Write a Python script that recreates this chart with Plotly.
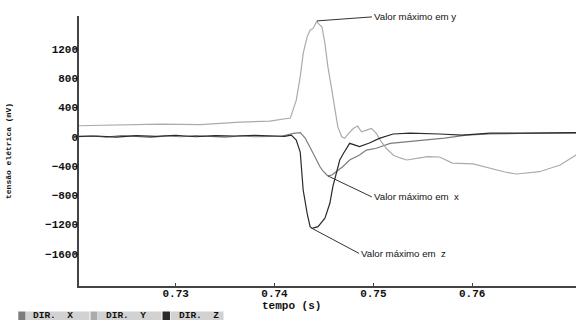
import plotly.graph_objects as go

# ---- data (time in s, voltage in mV) ----
t_x = [0.7202, 0.7215, 0.7230, 0.7245, 0.7260, 0.7275, 0.7290, 0.7305, 0.7320, 0.7335,
       0.7350, 0.7365, 0.7380, 0.7395, 0.7408, 0.7419, 0.7426, 0.7431, 0.7436, 0.7441,
       0.7446, 0.7449, 0.7453, 0.7454, 0.7458, 0.7463, 0.7469, 0.7476, 0.7486, 0.7493,
       0.7503, 0.7517, 0.7532, 0.7550, 0.7572, 0.7594, 0.7618, 0.7648, 0.7678, 0.7705]
v_x = [0, 10, -5, 15, 5, -10, 10, 0, 15, 5,
       -5, 10, 0, 5, 10, 46, 55, -18, -158, -277,
       -410, -468, -523, -536, -523, -468, -410, -318, -250, -182,
       -158, -90, -72, -45, -18, 23, 37, 44, 50, 50]

t_y = [0.7202, 0.7244, 0.7284, 0.7325, 0.7365, 0.7395, 0.7411, 0.7416, 0.7417, 0.7422,
       0.7426, 0.7429, 0.7433, 0.7436, 0.7439, 0.7443, 0.7444, 0.7448, 0.7451, 0.7454,
       0.7458, 0.7461, 0.7464, 0.7468, 0.7471, 0.7475, 0.7480, 0.7484, 0.7488, 0.7493,
       0.7498, 0.7503, 0.7508, 0.7513, 0.7520, 0.7527, 0.7534, 0.7547, 0.7555, 0.7567,
       0.7580, 0.7601, 0.7618, 0.7633, 0.7645, 0.7658, 0.7668, 0.7689, 0.7705]
v_y = [150, 160, 173, 165, 200, 214, 242, 255, 296, 500,
       819, 1138, 1365, 1456, 1480, 1583, 1552, 1500, 1275, 955,
       637, 364, 137, 0, -22, 46, 115, 146, 68, 91,
       115, 46, -68, -158, -250, -290, -318, -290, -273, -277,
       -360, -372, -427, -482, -509, -495, -478, -386, -250]

t_z = [0.7202, 0.7220, 0.7240, 0.7260, 0.7280, 0.7300, 0.7320, 0.7340, 0.7360, 0.7380,
       0.7400, 0.7410, 0.7417, 0.7422, 0.7426, 0.7427, 0.7429, 0.7433, 0.7436, 0.7438,
       0.7444, 0.7451, 0.7456, 0.7459, 0.7463, 0.7466, 0.7470, 0.7476, 0.7486, 0.7496,
       0.7506, 0.7520, 0.7537, 0.7550, 0.7567, 0.7590, 0.7618, 0.7648, 0.7678, 0.7705]
v_z = [5, 10, -5, 15, 5, 20, 0, 15, 10, 20,
       10, 5, 23, -45, -209, -410, -728, -1046, -1229, -1253,
       -1229, -1114, -909, -683, -455, -318, -222, -90, -136, -86,
       -22, 37, 50, 46, 37, 23, 50, 50, 57, 55]

x_ticks = [0.73, 0.74, 0.75, 0.76]
x_ticklabels = ["0.73", "0.74", "0.75", "0.76"]
y_ticks = [1200, 800, 400, 0, -400, -800, -1200, -1600]

series_names = ["DIR. X", "DIR. Y", "DIR. Z"]
series_colors = ["#7c7c7c", "#ababab", "#2a2a2a"]

# annotation points (max of each series)
ann_x = (0.7454, -536)
ann_y = (0.7443, 1583)
ann_z = (0.7438, -1253)

mono = "Liberation Mono, Courier New, monospace"
sans = "Liberation Sans, Arial, sans-serif"

L, R, T, B = 79, 576, 16, 286
PW, PH = R - L, B - T


def px(xp):
    return (xp - L) / PW


def py(yp):
    return (B - yp) / PH


fig = go.Figure()
for t, v, name, col in zip([t_x, t_y, t_z], [v_x, v_y, v_z], series_names, series_colors):
    fig.add_trace(go.Scatter(x=t, y=v, mode="lines", name=name,
                             line=dict(color=col, width=1.2), showlegend=False))

annots = []
for (ax_, ay_), txt, dx, dy in [
    (ann_y, "Valor máximo em y", 55, -4),
    (ann_x, "Valor máximo em\u00a0 x", 44, 21),
    (ann_z, "Valor máximo em\u00a0 z", 47, 25),
]:
    annots.append(dict(x=ax_, y=ay_, xref="x", yref="y", text=txt,
                       showarrow=True, arrowhead=0, arrowwidth=1, arrowcolor="#333333",
                       ax=dx, ay=dy, xanchor="left", yanchor="middle", standoff=0,
                       font=dict(family=sans, size=9.7, color="#111111")))

# axis titles
annots.append(dict(x=px(291), y=py(305.5), xref="paper", yref="paper",
                   xanchor="center", yanchor="middle",
                   text="<b>tempo (s)</b>", showarrow=False,
                   font=dict(family=mono, size=11, color="#111111")))
annots.append(dict(x=px(8.5), y=py(151.5), xref="paper", yref="paper",
                   xanchor="center", yanchor="middle",
                   text="<b>tensão elétrica (mV)</b>", showarrow=False, textangle=-90,
                   font=dict(family=mono, size=8, color="#111111")))

# legend bar at bottom
shapes = []
leg_boxes = [(18.3, 25.5, 26, 89.5), (90.5, 97.5, 98, 161.5), (162.5, 170, 170.5, 223.5)]
leg_text_x = [53, 126, 198.5]
y0p, y1p = 311.5, 320
for (s0, s1, b0, b1), tx, name, col in zip(leg_boxes, leg_text_x, series_names, series_colors):
    shapes.append(dict(type="rect", xref="paper", yref="paper",
                       x0=px(s0), x1=px(s1), y0=py(y1p), y1=py(y0p),
                       fillcolor=col, line=dict(width=0), layer="above"))
    shapes.append(dict(type="rect", xref="paper", yref="paper",
                       x0=px(b0), x1=px(b1), y0=py(y1p), y1=py(y0p),
                       fillcolor="#d2d2d2", line=dict(width=0), layer="above"))
    annots.append(dict(x=px(tx), y=py((y0p + y1p) / 2 - 0.5), xref="paper", yref="paper",
                       xanchor="center", yanchor="middle",
                       text="<b>" + name.replace(" ", "\u00a0\u00a0") + "</b>", showarrow=False,
                       font=dict(family=mono, size=9.5, color="#111111")))

fig.update_layout(
    width=576, height=320,
    margin=dict(l=L, r=576 - R, t=T, b=320 - B, autoexpand=False),
    paper_bgcolor="white", plot_bgcolor="white",
    showlegend=False,
    annotations=annots,
    shapes=shapes,
    xaxis=dict(range=[0.72022, 0.7705], tickvals=x_ticks, ticktext=x_ticklabels,
               showgrid=False, zeroline=False, showline=True, linecolor="#444444",
               linewidth=1.5, ticks="inside", ticklen=3, tickcolor="#444444",
               ticklabelstandoff=-4,
               tickfont=dict(family=mono, size=11, color="#111111", weight="bold")),
    yaxis=dict(range=[-2040, 1650], tickvals=y_ticks, showgrid=False, zeroline=False,
               showline=True, linecolor="#444444", linewidth=1.5,
               ticks="outside", ticklen=3, tickcolor="#444444",
               ticklabelstandoff=-6,
               tickfont=dict(family=mono, size=11, color="#111111", weight="bold")),
)

fig.write_html("out.html", config={"displayModeBar": False},
               post_script="document.body.style.margin='0';document.body.style.overflow='hidden';")
